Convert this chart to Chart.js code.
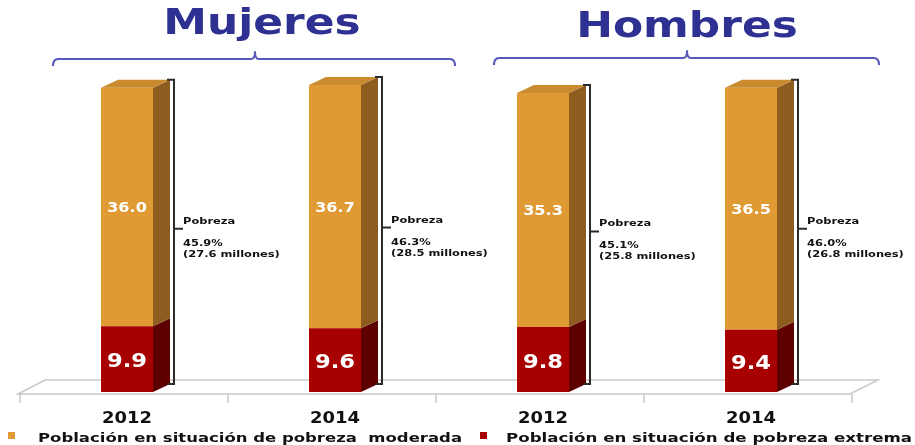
<!DOCTYPE html>
<html>
<head>
<meta charset="utf-8">
<script src="https://cdn.jsdelivr.net/npm/chart.js@4"></script>
<style>
  html, body { margin: 0; padding: 0; background: #fff; }
  #wrap { width: 915px; height: 445px; }
</style>
</head>
<body>
<div id="wrap"><canvas id="pobreza"></canvas></div>
<script>
  // datos
  var years = ['2012', '2014', '2012', '2014'];
  var moderada = [36.0, 36.7, 35.3, 36.5];
  var extrema = [9.9, 9.6, 9.8, 9.4];
  var pobrezaPct = [45.9, 46.3, 45.1, 46.0];
  var pobrezaMill = [27.6, 28.5, 25.8, 26.8];
  var grupos = ['Mujeres', 'Hombres'];
  var leyenda = ['Población en situación de pobreza  moderada', 'Población en situación de pobreza extrema'];

  var colModFront = '#df9a34', colModSide = '#8d5c1f', colModTop = '#c98b2d';
  var colExtFront = '#a60000', colExtSide = '#5e0000';
  var DX = 17, DY = 8;

  // texto bold estirado en horizontal (la lámina original está ensanchada)
  function txt(ctx, s, x, y, size, color, align, sx, targetW) {
    ctx.save();
    ctx.font = 'bold ' + size + 'px "DejaVu Sans"';
    ctx.fillStyle = color;
    ctx.textBaseline = 'alphabetic';
    ctx.textAlign = 'left';
    var w0 = ctx.measureText(s).width;
    if (targetW) sx = targetW / w0;
    var w = w0 * sx;
    var x0 = align === 'center' ? x - w / 2 : (align === 'right' ? x - w : x);
    ctx.translate(x0, y);
    ctx.scale(sx, 1);
    ctx.fillText(s, 0, 0);
    ctx.restore();
  }

  function brace(ctx, x1, x2, y, mid) {
    ctx.save();
    ctx.strokeStyle = '#5659b9';
    ctx.lineWidth = 2;
    ctx.lineJoin = 'round';
    ctx.beginPath();
    ctx.moveTo(x1, y + 7);
    ctx.quadraticCurveTo(x1, y, x1 + 5, y);
    ctx.lineTo(mid - 4, y);
    ctx.quadraticCurveTo(mid, y, mid, y - 7);
    ctx.quadraticCurveTo(mid, y, mid + 4, y);
    ctx.lineTo(x2 - 5, y);
    ctx.quadraticCurveTo(x2, y, x2, y + 7);
    ctx.stroke();
    ctx.restore();
  }

  var floor3d = {
    id: 'floor3d',
    beforeDatasetsDraw: function (chart) {
      var ctx = chart.ctx, a = chart.chartArea, b = a.bottom;
      ctx.save();
      ctx.strokeStyle = '#c9c9c9';
      ctx.lineWidth = 1.5;
      ctx.beginPath();
      ctx.moveTo(a.left - 5, b + 2);
      ctx.lineTo(a.left + 22, b - 12);
      ctx.lineTo(a.right + 23, b - 12);
      ctx.lineTo(a.right - 5, b + 2);
      ctx.closePath();
      ctx.stroke();
      var step = a.width / years.length;
      ctx.beginPath();
      for (var i = 0; i <= years.length; i++) {
        var x = a.left - 3 + i * step;
        ctx.moveTo(x, b + 2);
        ctx.lineTo(x, b + 11);
      }
      ctx.stroke();
      ctx.restore();
    }
  };

  var bars3d = {
    id: 'bars3d',
    afterDatasetsDraw: function (chart) {
      var ctx = chart.ctx;
      var sides = [colExtSide, colModSide];
      chart.data.datasets.forEach(function (ds, di) {
        chart.getDatasetMeta(di).data.forEach(function (el) {
          var p = el.getProps(['x', 'y', 'base', 'width'], true);
          var l = p.x - p.width / 2, r = p.x + p.width / 2;
          ctx.save();
          ctx.fillStyle = sides[di];
          ctx.beginPath();
          ctx.moveTo(r, p.y);
          ctx.lineTo(r + DX, p.y - DY);
          ctx.lineTo(r + DX, p.base - DY);
          ctx.lineTo(r, p.base);
          ctx.closePath();
          ctx.fill();
          if (di === 1) {
            ctx.fillStyle = colModTop;
            ctx.beginPath();
            ctx.moveTo(l, p.y);
            ctx.lineTo(l + DX, p.y - DY);
            ctx.lineTo(r + DX, p.y - DY);
            ctx.lineTo(r, p.y);
            ctx.closePath();
            ctx.fill();
          }
          ctx.restore();
        });
      });

      // etiquetas dentro de las barras
      var metaE = chart.getDatasetMeta(0), metaM = chart.getDatasetMeta(1);
      years.forEach(function (y, i) {
        var e = metaE.data[i], m = metaM.data[i];
        txt(ctx, moderada[i].toFixed(1), m.x, (m.y + m.base) / 2 + 5, 14, '#fff', 'center', 1.15);
        txt(ctx, extrema[i].toFixed(1), e.x, (e.y + e.base) / 2 + 8, 20, '#fff', 'center', 1.13);

        // corchete de pobreza total
        var bx = m.x + m.width / 2 + DX + 4;
        var top = m.y - DY, bot = e.base - DY, mid = (top + bot) / 2;
        ctx.save();
        ctx.strokeStyle = '#2b2b2b';
        ctx.lineWidth = 2;
        ctx.beginPath();
        ctx.moveTo(bx - 7, top);
        ctx.lineTo(bx, top);
        ctx.lineTo(bx, bot);
        ctx.lineTo(bx - 7, bot);
        ctx.moveTo(bx, mid - 3);
        ctx.lineTo(bx + 9, mid - 3);
        ctx.stroke();
        ctx.restore();
        var tx = bx + 9;
        txt(ctx, 'Pobreza', tx, mid - 8, 9, '#111', 'left', 1.27);
        txt(ctx, pobrezaPct[i].toFixed(1) + '%', tx, mid + 14, 9, '#111', 'left', 1.27);
        txt(ctx, '(' + pobrezaMill[i].toFixed(1) + ' millones)', tx, mid + 25, 9, '#111', 'left', 1.27);

        // años
        txt(ctx, y, m.x, chart.chartArea.bottom + 31, 16, '#111', 'center', 1.12);
      });

      // títulos de grupo
      var xs = chart.scales.x;
      var c0 = (xs.getPixelForValue(0) + xs.getPixelForValue(1)) / 2;
      var c1 = (xs.getPixelForValue(2) + xs.getPixelForValue(3)) / 2;
      txt(ctx, grupos[0], c0 + 31, 34, 36, '#2e3192', 'center', 1.22);
      txt(ctx, grupos[1], c1 + 40, 37, 36, '#2e3192', 'center', 1.22);
      brace(ctx, 53, 455, 59, 255);
      brace(ctx, 494, 879, 58, 687);

      // leyenda
      ctx.save();
      ctx.fillStyle = colModFront;
      ctx.fillRect(8, 432, 7, 7);
      ctx.fillStyle = colExtFront;
      ctx.fillRect(480, 432, 7, 7);
      ctx.restore();
      txt(ctx, leyenda[0], 38, 442, 12, '#111', 'left', 1, 424);
      txt(ctx, leyenda[1], 506, 442, 12, '#111', 'left', 1, 406);
    }
  };

  new Chart(document.getElementById('pobreza'), {
    type: 'bar',
    data: {
      labels: years,
      datasets: [{
        label: leyenda[1],
        data: extrema,
        backgroundColor: colExtFront,
        barPercentage: 0.25,
        categoryPercentage: 1
      }, {
        label: leyenda[0],
        data: moderada,
        backgroundColor: colModFront,
        barPercentage: 0.25,
        categoryPercentage: 1
      }]
    },
    options: {
      responsive: true,
      maintainAspectRatio: false,
      animation: false,
      layout: { padding: { left: 23, right: 60, top: 60.5, bottom: 53 } },
      plugins: { legend: { display: false }, tooltip: { enabled: false } },
      scales: {
        x: { stacked: true, display: false },
        y: { stacked: true, display: false, min: 0, max: 50 }
      }
    },
    plugins: [floor3d, bars3d]
  });
</script>
</body>
</html>
